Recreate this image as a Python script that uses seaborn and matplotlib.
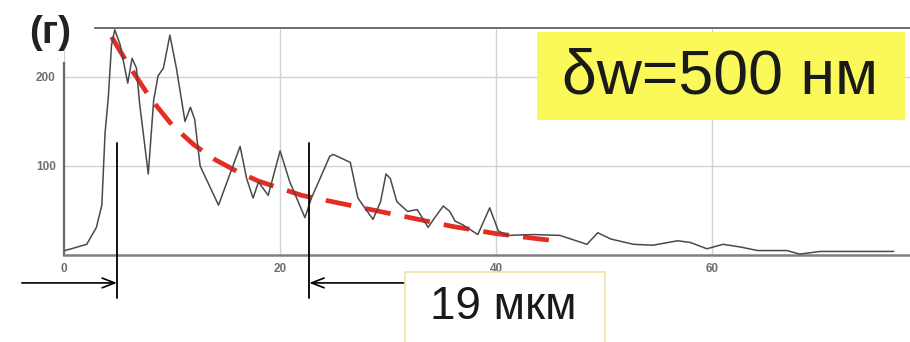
import matplotlib
matplotlib.use("Agg")
import matplotlib.pyplot as plt
import seaborn as sns
import pandas as pd
from matplotlib.patches import Rectangle
import matplotlib.transforms as mtransforms

# ---- data ----
signal_x = [0.1, 2.1, 3.0, 3.5, 3.8, 4.1, 4.4, 4.7, 5.2, 5.9, 6.3, 6.7, 7.0, 7.8, 8.3,
            8.7, 9.2, 9.8, 10.4, 11.2, 11.7, 12.1, 12.6, 14.3, 16.3, 16.9, 17.5, 18.0,
            18.9, 20.0, 20.9, 22.3, 22.9, 23.7, 24.6, 24.9, 25.8, 26.5, 27.2, 28.6,
            29.3, 29.8, 30.2, 30.8, 31.8, 32.7, 33.7, 34.2, 35.1, 35.7, 36.2, 36.9,
            38.3, 39.4, 40.2, 41.0, 43.4, 45.9, 48.4, 49.4, 50.6, 52.7, 54.5, 56.8,
            58.0, 59.5, 61.0, 62.6, 64.2, 66.9, 68.1, 70.0, 76.8]
signal_y = [5, 12, 31, 56, 137, 177, 236, 253, 236, 193, 221, 210, 170, 91, 174,
            201, 210, 247, 210, 150, 166, 152, 100, 56, 122, 86, 64, 82,
            67, 117, 82, 42, 64, 86, 111, 113, 108, 104, 64, 40,
            60, 91, 86, 60, 49, 51, 31, 40, 55, 49, 38, 34,
            23, 53, 27, 22, 23, 22, 12, 25, 18, 12, 11, 16,
            14, 7, 12, 9, 5, 5, 1, 4, 4]

fit_x = [4.4, 6, 8, 10, 12, 14, 16, 18, 20, 22, 24, 26, 28, 30, 32, 34, 36, 38,
         40, 42, 44, 45.5]
fit_y = [245, 213, 176, 146, 124, 107, 94, 83, 75, 67, 62, 57, 52, 47, 42, 37, 32,
         28, 24, 21, 18, 16]

x_ticks = [0, 20, 40, 60]
y_ticks = [100, 200]
marker_x = [4.9, 22.7]          # vertical marker lines
panel_label = "(г)"
width_label = "δw=500 нм"
distance_label = "19 мкм"

sig_df = pd.DataFrame({"x": signal_x, "y": signal_y})
fit_df = pd.DataFrame({"x": fit_x, "y": fit_y})

sns.set_style("white")
plt.rcParams["font.family"] = ["Liberation Sans", "DejaVu Sans"]

W, H = 910, 342
fig = plt.figure(figsize=(W / 100, H / 100), dpi=100)
ax = fig.add_axes([64 / W, 87 / H, 846 / W, 227 / H])

# fit curve (red dashed)
sns.lineplot(data=fit_df, x="x", y="y", ax=ax, color="#e52b22", linewidth=3.4,
             zorder=2)
ax.lines[-1].set_dashes([5.5, 3.0])
ax.lines[-1].set_dash_capstyle("butt")
# measured signal
sns.lineplot(data=sig_df, x="x", y="y", ax=ax, color="#4a4a4a", linewidth=1.1,
             zorder=3)

ax.set_xlim(0, 78.3)
ax.set_ylim(0, 255)
ax.set_xticks(x_ticks)
ax.set_yticks(y_ticks)
ax.set_xlabel("")
ax.set_ylabel("")
ax.grid(True, color="#d2d2d2", linewidth=1.0, zorder=0)
ax.tick_params(length=0, labelsize=8.5, labelcolor="#6f6f6f", pad=6)
for lab in ax.get_xticklabels() + ax.get_yticklabels():
    lab.set_fontweight("bold")

ax.spines["right"].set_visible(False)
ax.spines["bottom"].set_color("#808080")
ax.spines["bottom"].set_linewidth(1.8)
ax.spines["left"].set_color("#6a6a6a")
ax.spines["left"].set_linewidth(1.6)
ax.spines["left"].set_bounds(0, 216)
ax.spines["top"].set_color("#555555")
ax.spines["top"].set_linewidth(1.2)
ax.spines["top"].set_bounds(2.9, 78.3)

# vertical marker lines and arrows
blend = mtransforms.blended_transform_factory(ax.transData, ax.transAxes)
for mx in marker_x:
    ax.plot([mx, mx], [0.493, -0.189], color="black", lw=1.3, transform=blend,
            clip_on=False, zorder=5)
ax.annotate("", xy=(marker_x[0], -0.123), xytext=(-3.9, -0.123),
            xycoords=blend, textcoords=blend,
            arrowprops=dict(arrowstyle="->,head_length=0.9,head_width=0.35",
                            lw=1.2, color="black", shrinkA=0, shrinkB=0))
ax.annotate("", xy=(marker_x[1], -0.123), xytext=(31.5, -0.123),
            xycoords=blend, textcoords=blend,
            arrowprops=dict(arrowstyle="->,head_length=0.9,head_width=0.35",
                            lw=1.2, color="black", shrinkA=0, shrinkB=0))

# boxes
fig.add_artist(Rectangle((405 / W, -10 / H), 200 / W, (70 + 10) / H,
                         transform=fig.transFigure, facecolor="white",
                         edgecolor="#eee3a6", lw=1.2, zorder=6))
fig.text(503 / W, 1 - 307 / H, distance_label, fontsize=33, color="#1a1a1a",
         ha="center", va="center", zorder=7)

fig.add_artist(Rectangle((537 / W, 1 - 120 / H), 368 / W, 88 / H,
                         transform=fig.transFigure, facecolor="#fbf95a",
                         edgecolor="none", zorder=6))
fig.text(720 / W, 1 - 77 / H, width_label, fontsize=45, color="#1a1a1a",
         ha="center", va="center", zorder=7)

fig.text(50 / W, 1 - 33 / H, panel_label, fontsize=28, color="#222222",
         fontweight="bold", ha="center", va="center")

fig.savefig("out.png", dpi=100)
